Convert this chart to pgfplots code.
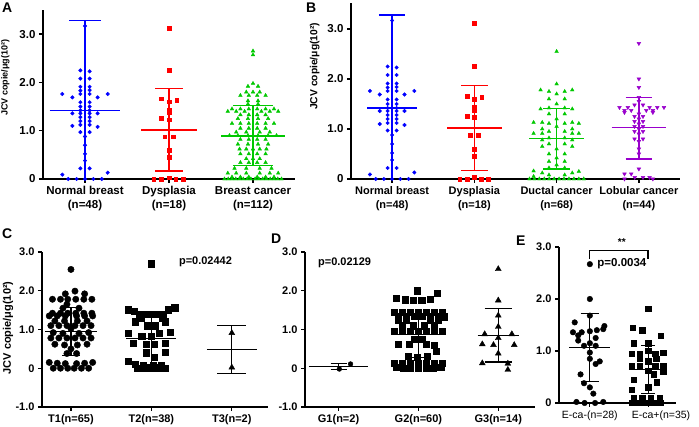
\documentclass[border=0pt]{standalone}
\usepackage{fontspec}
\setmainfont{Liberation Sans}
\usepackage{pgfplots}
\pgfplotsset{compat=1.18}

\definecolor{pblue}{RGB}{0,0,255}
\definecolor{pred}{RGB}{255,0,0}
\definecolor{pgreen}{RGB}{0,200,0}
\definecolor{ppurple}{RGB}{153,0,204}

\newcommand{\fs}[1]{\fontsize{#1}{#1}\selectfont}

\pgfplotsset{
  panel/.style={scale only axis, axis lines*=left, clip=false,
    axis line style={line width=#1}, tick style={line width=#1, black},
    tick align=outside, major tick length=4pt,
    /pgf/number format/assume math mode=true,
    yticklabel style={font=\bfseries\fs{11.5}},
    xticklabel style={align=center, font=\bfseries\fontsize{11.5}{14}\selectfont},
    ylabel style={anchor=center}},
  dots/.style={only marks, mark=#1},
  msd/.style={mark=none, line width=1.6pt},
  msdc/.style={mark=none, line width=1.1pt, black},
}

\begin{document}
\begin{tikzpicture}
\path[use as bounding box] (0,0) rectangle (699pt,427pt);

% ---------------- A
\begin{axis}[panel=1.5pt, at={(43pt,248pt)}, anchor=south west,
  width=252pt, height=169pt, xmin=-0.5, xmax=2.5, ymin=0, ymax=3.5,
  xtick={0,1,2}, xticklabels={Normal breast\\(n=48), Dysplasia\\(n=18), Breast cancer\\(n=112)},
  ytick={0,1,2,3}, yticklabels={0,1.0,2.0,3.0},
  ylabel={JCV copie/μg(10²)},
  ylabel style={font=\bfseries\fs{9}, at={(axis description cs:-0.15,0.6)}}]
\addplot[dots=*, pblue, mark size=1.8pt] coordinates {
(0,3.17)(0,0.88)(0,0.70)(0,0.52)(0,0.38)
(-0.055,2.25)(0.055,2.23)(-0.055,2.08)(0.055,2.08)(-0.055,1.91)(0.055,1.91)(-0.055,1.83)(0.055,1.84)
(-0.055,1.59)(0.055,1.59)(-0.055,1.50)(0.055,1.50)(-0.055,1.42)(0.055,1.42)(-0.055,1.28)(0.055,1.28)
(-0.055,1.20)(0.055,1.20)(-0.055,1.12)(0.055,1.12)(-0.055,0.97)(0.055,0.97)(-0.055,0.22)(0.055,0.22)
(-0.27,1.76)(-0.055,1.76)(0.055,1.76)(0.27,1.76)(-0.15,1.69)(0.15,1.69)
(-0.15,1.36)(-0.055,1.36)(0.055,1.36)(0.15,1.36)(-0.15,1.10)(0.15,1.08)
(-0.27,0.09)(0.27,0.13)(-0.2,0)(-0.1,0)(0,0)(0.1,0)(0.2,0)};
\addplot[dots=square*, pred, mark size=1.8pt] coordinates {
(1,3.12)(1,2.25)(0.91,1.66)(1.09,1.63)(1,1.60)(1,1.43)(1,1.37)(0.91,1.26)(1,1.23)
(0.95,0.88)(1.05,0.88)(1,0.6)(1,0.45)(1,0.03)(0.82,0)(0.91,0)(1.08,0)(1.17,0)};
\addplot[dots=triangle*, pgreen, mark size=2.1pt] coordinates {
(2,2.65)(2,2.57)(2,1.98)(1.94,1.92)(2.06,1.92)(1.92,1.80)(2,1.80)(2.08,1.80)
(1.85,1.73)(1.95,1.73)(2.05,1.73)(2.15,1.73)(1.94,1.62)(2.06,1.62)(1.94,1.55)(2.06,1.55)
(1.75,1.45)(1.85,1.45)(1.95,1.45)(2.05,1.45)(2.15,1.45)(2.25,1.45)
(1.70,1.40)(1.80,1.40)(1.90,1.40)(2.10,1.40)(2.20,1.40)(2.30,1.40)
(1.85,1.33)(1.95,1.33)(2.05,1.33)(2.15,1.33)(1.82,1.25)(1.94,1.25)(2.06,1.25)(2.18,1.25)
(1.75,1.15)(1.85,1.15)(1.95,1.15)(2.05,1.15)(2.15,1.15)(2.25,1.15)
(1.85,1.05)(1.95,1.05)(2.05,1.05)(2.15,1.05)(1.80,0.97)(1.92,0.97)(2.08,0.97)(2.20,0.97)
(1.72,0.90)(1.82,0.90)(1.94,0.90)(2.06,0.90)(2.18,0.90)(2.28,0.90)
(1.85,0.82)(1.95,0.82)(2.05,0.82)(2.15,0.82)(1.82,0.72)(1.94,0.72)(2.06,0.72)(2.18,0.72)
(1.84,0.62)(1.92,0.62)(2,0.62)(2.08,0.62)(2.16,0.62)(1.85,0.52)(1.95,0.52)(2.05,0.52)(2.15,0.52)
(1.92,0.42)(2,0.42)(2.08,0.42)(1.85,0.34)(1.95,0.34)(2.05,0.34)(2.15,0.34)
(1.78,0.22)(1.92,0.22)(2.08,0.22)(2.22,0.22)
(1.70,0.12)(1.80,0.12)(1.92,0.12)(2.08,0.12)(2.20,0.12)(2.30,0.12)
(1.75,0.04)(1.85,0.04)(1.95,0.04)(2.05,0.04)(2.15,0.04)(2.25,0.04)
(1.66,0)(1.705,0)(1.75,0)(1.795,0)(1.84,0)(1.885,0)(1.93,0)(1.975,0)
(2.025,0)(2.07,0)(2.115,0)(2.16,0)(2.205,0)(2.25,0)(2.295,0)(2.34,0)};
% mean and SD
\addplot[msd, pblue] coordinates {(-0.42,1.42)(0.42,1.42)};
\addplot[msd, pblue] coordinates {(0,0)(0,3.28)};
\addplot[msd, pblue] coordinates {(-0.19,3.28)(0.19,3.28)};
\addplot[msd, pred] coordinates {(0.67,1.02)(1.33,1.02)};
\addplot[msd, pred] coordinates {(1,0.17)(1,1.87)};
\addplot[msd, pred] coordinates {(0.835,1.87)(1.165,1.87)};
\addplot[msd, pred] coordinates {(0.835,0.17)(1.165,0.17)};
\addplot[msd, pgreen] coordinates {(1.62,0.89)(2.38,0.89)};
\addplot[msd, pgreen] coordinates {(2,0.28)(2,1.52)};
\addplot[msd, pgreen] coordinates {(1.76,1.52)(2.24,1.52)};
\addplot[msd, pgreen] coordinates {(1.76,0.28)(2.24,0.28)};
\end{axis}

% ---------------- B
\begin{axis}[panel=1.5pt, at={(351pt,248pt)}, anchor=south west,
  width=329pt, height=176pt, xmin=-0.5, xmax=3.5, ymin=0, ymax=3.52,
  xtick={0,1,2,3}, xticklabels={Normal breast\\(n=48), Dysplasia\\(n=18), Ductal cancer\\(n=68), Lobular cancer\\(n=44)},
  xticklabel style={font=\bfseries\fontsize{11}{14}\selectfont},
  ytick={0,1,2,3}, yticklabels={0,1.0,2.0,3.0},
  ylabel={JCV copie/μg(10²)},
  ylabel style={font=\bfseries\fs{10.3}, at={(axis description cs:-0.11,0.64)}}]
\addplot[dots=*, pblue, mark size=1.8pt] coordinates {
(0,3.17)(0,0.88)(0,0.70)(0,0.52)(0,0.38)
(-0.055,2.25)(0.055,2.23)(-0.055,2.08)(0.055,2.08)(-0.055,1.91)(0.055,1.91)(-0.055,1.83)(0.055,1.84)
(-0.055,1.59)(0.055,1.59)(-0.055,1.50)(0.055,1.50)(-0.055,1.42)(0.055,1.42)(-0.055,1.28)(0.055,1.28)
(-0.055,1.20)(0.055,1.20)(-0.055,1.12)(0.055,1.12)(-0.055,0.97)(0.055,0.97)(-0.055,0.22)(0.055,0.22)
(-0.27,1.76)(-0.055,1.76)(0.055,1.76)(0.27,1.76)(-0.15,1.69)(0.15,1.69)
(-0.15,1.36)(-0.055,1.36)(0.055,1.36)(0.15,1.36)(-0.15,1.10)(0.15,1.08)
(-0.27,0.09)(0.27,0.13)(-0.2,0)(-0.1,0)(0,0)(0.1,0)(0.2,0)};
\addplot[dots=square*, pred, mark size=1.8pt] coordinates {
(1,3.12)(1,2.25)(0.91,1.66)(1.09,1.63)(1,1.60)(1,1.43)(1,1.37)(0.91,1.26)(1,1.23)
(0.95,0.88)(1.05,0.88)(1,0.6)(1,0.45)(1,0.03)(0.82,0)(0.91,0)(1.08,0)(1.17,0)};
\addplot[dots=triangle*, pgreen, mark size=2.1pt] coordinates {
(2,2.55)(2,1.90)(1.805,1.78)(1.907,1.75)(2.098,1.75)(2.19,1.78)(2,1.70)(2,1.50)
(1.805,1.40)(1.907,1.42)(2.098,1.42)(2.19,1.40)(1.907,1.30)(2.098,1.30)(2,1.20)
(1.72,1.13)(1.825,1.13)(1.907,1.11)(2.098,1.11)(2.19,1.13)(2.27,1.11)(2,1.05)
(1.907,0.95)(2.098,0.95)(1.72,0.91)(1.825,0.91)(2.19,0.91)(2.27,0.91)
(1.907,0.82)(2.098,0.82)(1.907,0.70)(2.098,0.70)(2,0.60)(1.907,0.50)(2.098,0.50)(2,0.42)
(1.907,0.35)(2.098,0.35)(1.907,0.22)(2.098,0.22)(1.825,0.12)(2.19,0.12)(1.72,0.05)
(1.67,0)(1.73,0)(1.79,0)(1.85,0)(1.91,0)(1.97,0)(2.03,0)(2.09,0)(2.15,0)(2.21,0)(2.27,0)(2.33,0)
(1.907,1.60)(2.098,1.60)(1.825,1.0)(2.19,1.0)(1.825,0.78)(2.19,0.78)(1.825,0.65)(2.19,0.65)
(2,0.28)(1.907,0.08)(2.098,0.08)(1.72,0.16)(2.27,0.15)};
\addplot[dots=triangle*, ppurple, mark size=2.1pt, mark options={rotate=180}] coordinates {
(3,2.71)(3,2.0)(3,1.83)(3,1.63)(3,1.55)
(2.764,1.43)(2.866,1.43)(3.13,1.43)(3.224,1.43)(3.305,1.43)
(2.825,1.37)(2.907,1.37)(3.09,1.37)(3.17,1.37)
(3,1.30)(3,1.20)(3,1.10)(3,1.0)(3,0.9)(3,0.75)(3,0.6)(3,0.5)(3,0.2)
(2.825,0.1)(2.907,0.1)(2.95,0.03)(3.05,0.03)(3.13,0.03)(2.825,0)(3.17,0)
(2.947,1.48)(3.05,1.48)(2.947,1.25)(3.05,1.25)(2.947,1.15)(3.05,1.15)
(2.947,1.05)(3.05,1.05)(2.947,0.95)(3.05,0.95)(2.947,0.8)(3.05,0.8)(2.825,1.33)(3.17,1.33)};
\addplot[msd, pblue] coordinates {(-0.3,1.42)(0.3,1.42)};
\addplot[msd, pblue] coordinates {(0,0)(0,3.28)};
\addplot[msd, pblue] coordinates {(-0.16,3.28)(0.16,3.28)};
\addplot[msd, pred] coordinates {(0.67,1.02)(1.33,1.02)};
\addplot[msd, pred] coordinates {(1,0.17)(1,1.87)};
\addplot[msd, pred] coordinates {(0.84,1.87)(1.16,1.87)};
\addplot[msd, pred] coordinates {(0.84,0.17)(1.16,0.17)};
\addplot[msd, pgreen] coordinates {(1.67,0.81)(2.33,0.81)};
\addplot[msd, pgreen] coordinates {(2,0.2)(2,1.41)};
\addplot[msd, pgreen] coordinates {(1.84,1.41)(2.16,1.41)};
\addplot[msd, pgreen] coordinates {(1.84,0.2)(2.16,0.2)};
\addplot[msd, ppurple] coordinates {(2.67,1.03)(3.33,1.03)};
\addplot[msd, ppurple] coordinates {(3,0.4)(3,1.63)};
\addplot[msd, ppurple] coordinates {(2.84,1.63)(3.16,1.63)};
\addplot[msd, ppurple] coordinates {(2.84,0.4)(3.16,0.4)};
\end{axis}

% ---------------- C
\begin{axis}[panel=1.1pt, at={(42pt,20pt)}, anchor=south west,
  width=226pt, height=155pt, xmin=-0.36, xmax=2.45, ymin=-1, ymax=3,
  xtick={0,1,2}, xticklabels={T1(n=65), T2(n=38), T3(n=2)},
  xticklabel style={font=\bfseries\fs{11}},
  ytick={-1,0,1,2,3}, yticklabels={-1.0,0,1.0,2.0,3.0},
  yticklabel style={font=\bfseries\fs{11}},
  ylabel={JCV copie/μg(10²)},
  ylabel style={font=\bfseries\fs{11}, at={(axis description cs:-0.15,0.51)}}]
\addplot[dots=*, black, mark size=3.2pt] coordinates {
(0,2.55)(0.05,1.99)(-0.07,1.92)(0.17,1.92)
(-0.23,1.78)(-0.13,1.78)(-0.04,1.78)(0.06,1.78)(0.16,1.78)(0.26,1.78)
(-0.05,1.65)(-0.1,1.55)(0.1,1.55)
(-0.23,1.42)(-0.13,1.42)(-0.04,1.42)(0.06,1.42)(0.16,1.42)(0.26,1.42)
(-0.27,1.35)(-0.17,1.35)(-0.07,1.35)(0.07,1.35)(0.17,1.35)(0.27,1.35)
(-0.2,1.22)(-0.08,1.22)(0.08,1.22)(0.2,1.22)
(-0.25,1.10)(-0.15,1.10)(-0.05,1.10)(0.05,1.10)(0.15,1.10)(0.25,1.10)(0,1.02)
(-0.22,0.92)(-0.1,0.9)(0.1,0.9)(0.22,0.92)
(-0.25,0.78)(-0.15,0.78)(-0.05,0.78)(0.05,0.78)(0.15,0.78)(0.25,0.78)
(-0.2,0.62)(-0.08,0.6)(0.08,0.6)(0.2,0.62)(0,0.5)(-0.05,0.38)(0.07,0.38)
(-0.27,0.15)(-0.17,0.13)(-0.07,0.12)(0.07,0.12)(0.17,0.13)(0.27,0.15)
(-0.22,0)(-0.13,0)(-0.04,0)(0.04,0)(0.13,0)(0.22,0)};
\addplot[dots=square*, black, mark size=3.1pt] coordinates {
(1.0,2.70)(0.71,1.51)(0.79,1.47)(1.21,1.51)(1.29,1.56)
(0.85,1.40)(0.93,1.40)(1.0,1.40)(1.07,1.40)(1.15,1.40)(0.87,1.30)(1.13,1.30)
(0.8,1.20)(1.17,1.20)(0.95,1.10)(1.05,1.10)(0.71,0.90)(1.1,0.90)(1.23,0.92)
(0.88,0.82)(1.0,0.82)(0.77,0.65)(0.94,0.62)(1.04,0.62)(1.17,0.64)
(0.94,0.40)(1.17,0.42)(1.04,0.28)(0.71,0.18)
(0.8,0.10)(0.9,0.08)(1.02,0.07)(1.12,0.08)(0.83,0)(0.92,0)(1.0,0)(1.08,0)(1.17,0)};
\addplot[dots=triangle*, black, mark size=3.4pt] coordinates {(2,0.91)(2,0.02)};
\addplot[msdc] coordinates {(-0.32,0.95)(0.32,0.95)};
\addplot[msdc] coordinates {(0,0.32)(0,1.56)};
\addplot[msdc] coordinates {(-0.11,1.56)(0.11,1.56)};
\addplot[msdc] coordinates {(-0.11,0.32)(0.11,0.32)};
\addplot[msdc] coordinates {(0.69,0.76)(1.31,0.76)};
\addplot[msdc] coordinates {(1,0.1)(1,1.32)};
\addplot[msdc] coordinates {(0.89,1.32)(1.11,1.32)};
\addplot[msdc] coordinates {(0.89,0.1)(1.11,0.1)};
\addplot[msdc] coordinates {(1.69,0.48)(2.31,0.48)};
\addplot[msdc] coordinates {(2,-0.14)(2,1.11)};
\addplot[msdc] coordinates {(1.82,1.11)(2.18,1.11)};
\addplot[msdc] coordinates {(1.82,-0.14)(2.18,-0.14)};
\node[anchor=west, font=\bfseries\fs{11}] at (axis cs:1.3,2.74) {p=0.02442};
\end{axis}

% ---------------- D
\begin{axis}[panel=1.1pt, at={(305pt,20pt)}, anchor=south west,
  width=230pt, height=155pt, xmin=-0.42, xmax=2.46, ymin=-1, ymax=3,
  xtick={0,1,2}, xticklabels={G1(n=2), G2(n=60), G3(n=14)},
  xticklabel style={font=\bfseries\fs{11}},
  ytick={-1,0,1,2,3}, yticklabels={-1.0,0,1.0,2.0,3.0},
  yticklabel style={font=\bfseries\fs{11}}]
\addplot[dots=*, black, mark size=2.4pt] coordinates {(0.01,-0.02)(0.15,0.11)};
\addplot[dots=square*, black, mark size=3.1pt] coordinates {
(0.98,2.00)(1.24,1.93)(0.72,1.80)(0.83,1.77)(0.93,1.75)(1.04,1.76)(1.15,1.78)
(0.7,1.45)(0.8,1.45)(0.9,1.45)(1.0,1.45)(1.1,1.45)(1.2,1.45)(1.3,1.45)
(0.75,1.35)(0.85,1.35)(0.95,1.35)(1.05,1.35)(1.15,1.35)(1.25,1.35)(1.32,1.33)
(0.75,1.25)(0.85,1.25)(1.15,1.25)(1.25,1.25)(0.8,1.10)(0.93,1.10)(1.07,1.10)(1.2,1.10)
(0.7,0.95)(0.8,0.95)(0.9,0.95)(1.0,0.95)(1.1,0.95)(1.2,0.95)(1.3,0.95)
(0.95,0.75)(1.05,0.75)(0.75,0.62)(0.88,0.62)(1.1,0.62)(1.2,0.6)(1.22,0.45)
(0.87,0.32)(0.98,0.28)(1.11,0.32)
(0.7,0.12)(0.8,0.12)(0.9,0.12)(1.0,0.12)(1.1,0.12)(1.2,0.12)(1.3,0.12)
(0.72,0.02)(0.81,0)(0.9,0)(1.0,0)(1.1,0)(1.19,0)(1.28,0.02)};
\addplot[dots=triangle*, black, mark size=3.4pt] coordinates {
(2,2.56)(2,1.75)(2,1.36)(2,1.07)(1.83,0.88)(2.17,0.88)(2,0.78)
(1.8,0.62)(1.94,0.6)(2.2,0.6)(2,0.38)(1.8,0.13)(2.12,0.12)(2.12,-0.04)};
\addplot[msdc] coordinates {(-0.37,0.05)(0.37,0.05)};
\addplot[msdc] coordinates {(0,-0.03)(0,0.12)};
\addplot[msdc] coordinates {(-0.1,0.12)(0.1,0.12)};
\addplot[msdc] coordinates {(-0.1,-0.03)(0.1,-0.03)};
\addplot[msdc] coordinates {(0.7,0.86)(1.3,0.86)};
\addplot[msdc] coordinates {(1,0.28)(1,1.42)};
\addplot[msdc] coordinates {(0.86,1.42)(1.14,1.42)};
\addplot[msdc] coordinates {(0.86,0.28)(1.14,0.28)};
\addplot[msdc] coordinates {(1.74,0.84)(2.26,0.84)};
\addplot[msdc] coordinates {(2,0.16)(2,1.54)};
\addplot[msdc] coordinates {(1.83,1.54)(2.17,1.54)};
\addplot[msdc] coordinates {(1.83,0.16)(2.17,0.16)};
\node[anchor=west, font=\bfseries\fs{11}] at (axis cs:-0.3,2.72) {p=0.02129};
\end{axis}

% ---------------- E
\begin{axis}[panel=1.1pt, at={(559pt,24pt)}, anchor=south west,
  width=117pt, height=156pt, xmin=-0.53, xmax=1.48, ymin=0, ymax=3,
  xtick={0,1}, xticklabels={E-ca-(n=28), \hspace*{26pt}E-ca+(n=35)},
  xticklabel style={font=\fs{10.5}},
  ytick={0,1,2,3}, yticklabels={0,1.0,2.0,3.0},
  yticklabel style={font=\bfseries\fs{11}}]
\addplot[dots=*, black, mark size=2.8pt] coordinates {
(0,2.67)(0,2.0)(0,1.68)(-0.26,1.55)(0.25,1.48)(-0.29,1.36)(-0.14,1.36)(0,1.38)(0.12,1.4)(0.23,1.42)
(-0.2,1.3)(0.1,1.25)(0,1.15)(0,0.97)(0.17,0.8)(0.1,0.75)(-0.16,0.55)(-0.1,0.38)(0,0.3)(0.06,0.18)
(-0.23,0.02)(-0.09,0)(0.09,0)(0.23,0.02)(0,0.85)(-0.1,1.1)(0.1,1.1)(-0.2,1.2)};
\addplot[dots=square*, black, mark size=2.7pt] coordinates {
(1,1.81)(0.74,1.45)(0.9,1.4)(1.22,1.29)(0.75,1.15)(1,1.15)
(0.72,0.95)(0.86,0.95)(1,1.0)(1.12,0.95)(1.26,0.97)(0.72,0.72)(0.86,0.72)(1.12,0.72)(1.26,0.72)
(1,0.62)(0.75,0.45)(1.1,0.55)(1,0.3)(1.15,0.4)(0.86,0.85)(1.14,0.85)(1,0.8)(0.72,0.25)
(0.75,0.1)(0.9,0.1)(1.05,0.1)(1.2,0.1)(0.72,0)(0.82,0)(0.92,0)(1.02,0)(1.12,0)(1.22,0)(1.26,0.6)};
\addplot[msdc] coordinates {(-0.35,1.07)(0.35,1.07)};
\addplot[msdc] coordinates {(0,0.42)(0,1.72)};
\addplot[msdc] coordinates {(-0.16,1.72)(0.16,1.72)};
\addplot[msdc] coordinates {(-0.16,0.42)(0.16,0.42)};
\addplot[msdc] coordinates {(0.67,0.645)(1.33,0.645)};
\addplot[msdc] coordinates {(1,0.19)(1,1.1)};
\addplot[msdc] coordinates {(0.88,1.1)(1.12,1.1)};
\addplot[msdc] coordinates {(0.88,0.19)(1.12,0.19)};
\addplot[msdc, line width=1.2pt] coordinates {(0,2.77)(0,2.94)(1,2.94)(1,2.77)};
\node[font=\bfseries\fs{10}] at (axis cs:0.55,3.1) {**};
\node[anchor=west, font=\bfseries\fs{11.5}] at (axis cs:0.07,2.67) {p=0.0034};
\end{axis}

% panel letters
\node[anchor=north west, inner sep=0pt, font=\bfseries\fs{14}] at (2pt,424pt) {A};
\node[anchor=north west, inner sep=0pt, font=\bfseries\fs{14}] at (306pt,424pt) {B};
\node[anchor=north west, inner sep=0pt, font=\bfseries\fs{14}] at (2pt,198pt) {C};
\node[anchor=north west, inner sep=0pt, font=\bfseries\fs{14}] at (271pt,193pt) {D};
\node[anchor=north west, inner sep=0pt, font=\bfseries\fs{14}] at (516pt,191pt) {E};
\end{tikzpicture}
\end{document}
